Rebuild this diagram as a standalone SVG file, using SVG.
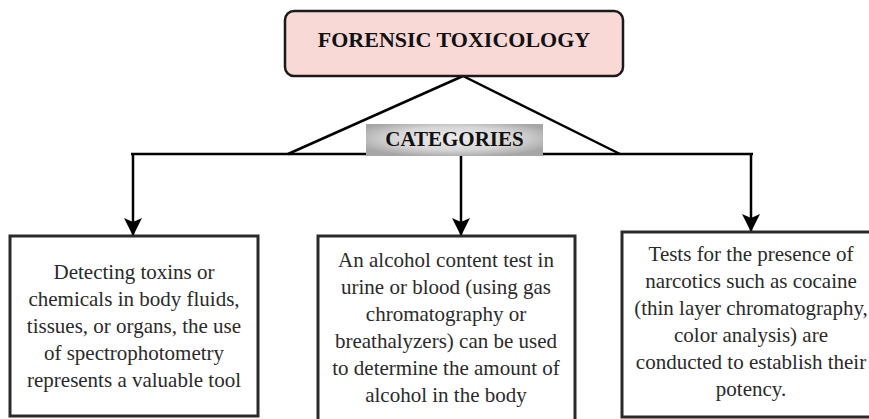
<svg xmlns="http://www.w3.org/2000/svg" width="869" height="419" viewBox="0 0 869 419">
<style>
.box{fill:#ffffff;stroke:#2a2a2a;stroke-width:3}
.ln{stroke:#000;fill:none;stroke-width:2.5}
</style>
<defs>
<marker id="arr" markerUnits="userSpaceOnUse" markerWidth="20" markerHeight="20" viewBox="0 0 20 20" refX="19" refY="10" orient="auto">
<path d="M1,1 L19,10 L1,19 L5,10 Z" fill="#000"/>
</marker>
<radialGradient id="gray" cx="0.5" cy="0.45" r="0.6">
<stop offset="0" stop-color="#eeeeee"/>
<stop offset="0.6" stop-color="#d6d6d6"/>
<stop offset="1" stop-color="#a6a6a6"/>
</radialGradient>
</defs>
<g id="connectors">
<path class="ln" d="M463,76 L288,154 M463,76 L620,154" stroke-width="2.2"/>
<path class="ln" d="M131,154 L753,154" stroke-width="3"/>
<path class="ln" d="M133,154 L133,236" marker-end="url(#arr)"/>
<path class="ln" d="M461,154 L461,236" marker-end="url(#arr)"/>
<path class="ln" d="M751,154 L751,232" marker-end="url(#arr)"/>
</g>
<g id="title" font-family="'Liberation Serif', 'Times New Roman', serif" font-weight="bold" text-anchor="middle">
<rect x="285" y="11" width="338" height="65" rx="9" fill="#f9d9d6" stroke="#1a1a1a" stroke-width="2.5"/>
<text x="454" y="47" font-size="22" fill="#111">FORENSIC TOXICOLOGY</text>
</g>
<g id="categories" font-family="'Liberation Serif', 'Times New Roman', serif" font-weight="bold" text-anchor="middle">
<rect x="366" y="124" width="177" height="32" fill="url(#gray)"/>
<text x="454.5" y="146" font-size="21" fill="#111">CATEGORIES</text>
</g>
<g id="box1" font-family="'Liberation Serif', 'Times New Roman', serif" font-size="21" fill="#2a2a2a" text-anchor="middle">
<rect class="box" x="10" y="236" width="248" height="180"/>
<text x="134" y="279">Detecting toxins or</text>
<text x="134" y="306">chemicals in body fluids,</text>
<text x="134" y="333">tissues, or organs, the use</text>
<text x="134" y="360">of spectrophotometry</text>
<text x="134" y="387">represents a valuable tool</text>
</g>
<g id="box2" font-family="'Liberation Serif', 'Times New Roman', serif" font-size="21" fill="#2a2a2a" text-anchor="middle">
<rect class="box" x="318" y="236" width="257" height="200"/>
<text x="446" y="267">An alcohol content test in</text>
<text x="446" y="294">urine or blood (using gas</text>
<text x="446" y="321">chromatography or</text>
<text x="446" y="348">breathalyzers) can be used</text>
<text x="446" y="375">to determine the amount of</text>
<text x="446" y="402">alcohol in the body</text>
</g>
<g id="box3" font-family="'Liberation Serif', 'Times New Roman', serif" font-size="21" fill="#2a2a2a" text-anchor="middle">
<rect class="box" x="622" y="232" width="258" height="185"/>
<text x="751" y="261">Tests for the presence of</text>
<text x="751" y="288">narcotics such as cocaine</text>
<text x="751" y="315">(thin layer chromatography,</text>
<text x="751" y="342">color analysis) are</text>
<text x="751" y="369">conducted to establish their</text>
<text x="751" y="396">potency.</text>
</g>
</svg>
